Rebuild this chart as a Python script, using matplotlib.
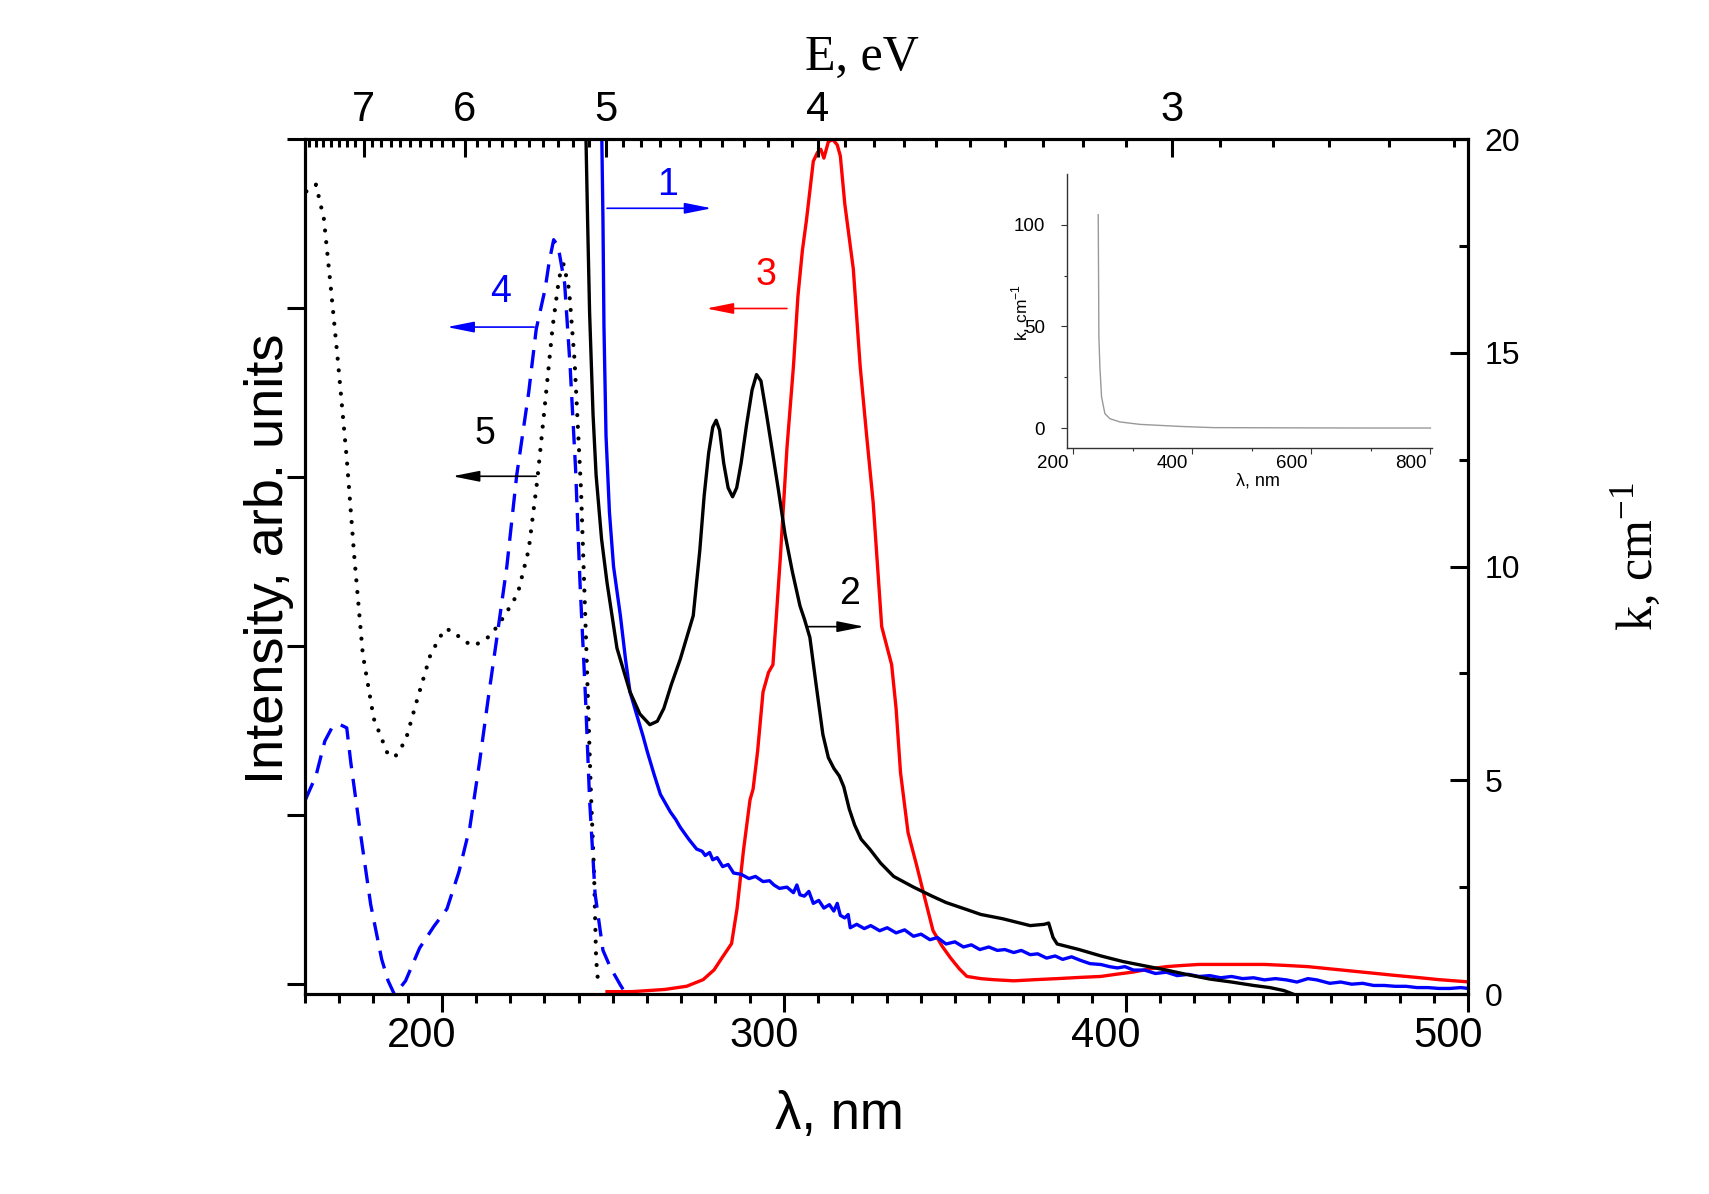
import numpy as np
import matplotlib
matplotlib.use("Agg")
import matplotlib.pyplot as plt
from matplotlib.transforms import ScaledTranslation

# ---------------- data ----------------
# curve 1 : blue solid, k (right axis)
wl_1 = [246.6, 247.1, 247.4, 248.0, 249.0, 250.2, 252.2, 253.7, 255.0, 256.9,
        258.8, 260.1, 262.0, 263.9, 266.8, 268.4, 269.7, 272.2, 274.5, 276.1,
        277.0, 278.3, 279.2, 280.5, 282.1, 283.7, 285.3, 287.5, 289.8, 291.7,
        293.9, 295.8, 297.1, 298.7, 300.9, 302.8, 303.8, 304.7, 306.0, 307.3,
        308.6, 310.2, 311.7, 313.3, 314.6, 315.6, 316.5, 317.8, 318.8, 319.4,
        321.3, 323.5, 325.4, 328.0, 330.2, 332.8, 335.3, 337.9, 340.1, 342.7,
        344.9, 347.4, 350.0, 352.5, 354.8, 357.3, 359.9, 362.4, 364.6, 367.2,
        369.4, 372.0, 374.2, 376.8, 379.3, 381.5, 384.1, 386.6, 389.5, 392.7,
        395.2, 397.5, 399.7, 402.2, 405.4, 408.6, 411.8, 415.0, 418.2, 421.4,
        424.5, 427.7, 430.9, 434.1, 437.3, 440.5, 443.7, 446.9, 450.0, 453.2,
        455.8, 459.6, 462.8, 466.0, 469.2, 472.4, 475.5, 478.7, 481.9, 485.1,
        488.3, 491.5, 494.7, 497.9, 500.1]
k_1 = [21.0, 18.16, 15.61, 13.06, 11.27, 10.00, 8.85, 7.83, 7.07, 6.55,
       6.04, 5.66, 5.15, 4.67, 4.26, 4.08, 3.90, 3.62, 3.39, 3.34,
       3.24, 3.31, 3.14, 3.19, 2.98, 3.03, 2.83, 2.80, 2.70, 2.75,
       2.63, 2.65, 2.55, 2.47, 2.50, 2.37, 2.55, 2.32, 2.29, 2.40,
       2.12, 2.19, 2.01, 2.09, 1.94, 2.12, 1.84, 1.78, 1.86, 1.55,
       1.63, 1.53, 1.60, 1.48, 1.55, 1.43, 1.50, 1.35, 1.40, 1.27,
       1.32, 1.17, 1.22, 1.10, 1.15, 1.04, 1.10, 1.02, 1.04, 0.97,
       1.02, 0.92, 0.94, 0.84, 0.89, 0.81, 0.87, 0.79, 0.71, 0.69,
       0.64, 0.61, 0.64, 0.56, 0.56, 0.48, 0.51, 0.43, 0.46, 0.41,
       0.43, 0.38, 0.41, 0.36, 0.38, 0.33, 0.36, 0.33, 0.28, 0.36,
       0.33, 0.25, 0.28, 0.23, 0.25, 0.20, 0.20, 0.18, 0.18, 0.15,
       0.15, 0.13, 0.13, 0.15, 0.13]

# curve 2 : black solid, k (right axis)
wl_2 = [241.9, 242.6, 243.2, 244.2, 245.1, 246.7, 248.3, 251.2, 255.0, 257.9,
        260.8, 263.0, 264.9, 267.1, 269.7, 271.6, 273.5, 275.4, 276.7, 278.0,
        279.2, 280.2, 281.2, 282.4, 283.7, 285.0, 286.2, 287.5, 289.1, 290.7,
        292.0, 293.3, 294.9, 296.4, 298.4, 300.3, 302.5, 304.7, 306.0, 307.6,
        309.5, 311.4, 313.0, 314.6, 316.2, 317.5, 319.1, 320.7, 322.6, 325.1,
        328.3, 332.1, 337.9, 343.3, 347.4, 352.9, 357.6, 364.0, 372.0, 376.1,
        377.4, 378.7, 379.9, 386.3, 392.7, 399.1, 405.4, 411.8, 418.2, 424.5,
        430.9, 437.3, 442.1, 446.2, 448.8]
k_2 = [21.0, 18.16, 15.94, 13.57, 12.14, 10.64, 9.62, 8.09, 7.07, 6.55,
       6.30, 6.38, 6.68, 7.24, 7.83, 8.34, 8.85, 10.36, 11.66, 12.65,
       13.26, 13.42, 13.19, 12.42, 11.84, 11.63, 11.84, 12.42, 13.32, 14.13,
       14.49, 14.34, 13.57, 12.81, 11.79, 10.77, 9.87, 9.08, 8.77, 8.34,
       7.19, 6.07, 5.53, 5.28, 5.10, 4.85, 4.33, 3.95, 3.62, 3.39,
       3.06, 2.75, 2.50, 2.29, 2.14, 1.99, 1.86, 1.76, 1.60, 1.63,
       1.66, 1.32, 1.17, 1.04, 0.89, 0.76, 0.66, 0.56, 0.45, 0.35,
       0.28, 0.20, 0.15, 0.08, 0.00]

# curve 3 : red solid, intensity (left axis)
wl_3 = [248.3, 255.7, 265.2, 271.6, 276.4, 279.6, 282.1, 284.7, 286.3, 288.2,
        290.1, 291.0, 292.3, 293.9, 295.5, 296.8, 297.7, 299.0, 300.9, 302.8,
        304.1, 305.4, 306.6, 308.6, 309.8, 310.8, 311.7, 313.0, 314.3, 315.6,
        316.5, 317.8, 320.3, 322.3, 324.2, 326.1, 328.6, 331.5, 332.8, 334.1,
        336.3, 338.8, 341.1, 343.6, 346.2, 348.7, 351.3, 353.5, 357.6, 361.1,
        367.2, 373.6, 379.9, 386.3, 392.7, 397.2, 402.2, 407.0, 411.8, 416.6,
        421.4, 427.7, 434.1, 440.5, 446.9, 453.2, 459.6, 466.0, 472.4, 478.7,
        485.1, 491.5, 500.0]
int_3 = [-0.046, -0.046, -0.033, -0.014, 0.025, 0.083, 0.160, 0.238, 0.444, 0.792,
         1.089, 1.153, 1.373, 1.727, 1.843, 1.889, 2.147, 2.534, 3.172, 3.656,
         4.068, 4.339, 4.520, 4.868, 4.920, 4.939, 4.887, 4.984, 4.997, 4.965,
         4.900, 4.617, 4.230, 3.656, 3.243, 2.849, 2.114, 1.889, 1.631, 1.250,
         0.895, 0.702, 0.515, 0.315, 0.225, 0.154, 0.089, 0.044, 0.031, 0.025,
         0.018, 0.025, 0.031, 0.038, 0.044, 0.057, 0.070, 0.089, 0.102, 0.109,
         0.115, 0.115, 0.115, 0.115, 0.109, 0.102, 0.089, 0.076, 0.063, 0.050,
         0.038, 0.025, 0.012]

# curve 4 : blue dashed, intensity (left axis)
wl_4 = [160.1, 163.2, 165.8, 168.0, 170.3, 172.2, 173.4, 176.0, 179.2, 182.4,
        184.3, 186.2, 189.4, 193.5, 197.7, 201.5, 205.0, 208.2, 211.0, 213.6,
        216.1, 219.0, 221.9, 225.4, 227.6, 230.2, 231.4, 232.7, 234.0, 235.9,
        237.5, 239.1, 240.4, 242.0, 243.2, 244.8, 247.1, 249.3, 252.2, 253.8]
int_4 = [1.089, 1.231, 1.437, 1.521, 1.534, 1.515, 1.308, 0.921, 0.470, 0.147,
         0.018, -0.065, 0.018, 0.212, 0.341, 0.444, 0.663, 0.928, 1.308, 1.695,
         2.050, 2.469, 3.011, 3.501, 3.875, 4.113, 4.275, 4.404, 4.365, 4.146,
         3.656, 3.049, 2.372, 1.695, 1.089, 0.534, 0.199, 0.096, -0.007, -0.059]

# curve 5 : black dotted, intensity (left axis)
wl_5 = [160.4, 163.2, 165.5, 167.4, 169.6, 172.2, 174.4, 176.9, 180.1, 184.0,
        186.2, 189.4, 192.9, 196.7, 200.8, 203.1, 206.3, 209.4, 214.2, 218.4,
        222.2, 225.4, 227.9, 230.2, 232.4, 234.3, 235.6, 237.2, 238.8, 240.7,
        242.3, 243.5, 244.5, 245.1, 245.8]
int_5 = [4.69, 4.73, 4.53, 4.15, 3.69, 3.11, 2.53, 1.95, 1.57, 1.37,
         1.34, 1.44, 1.69, 1.95, 2.10, 2.09, 2.03, 2.00, 2.06, 2.18,
         2.31, 2.57, 2.98, 3.44, 3.89, 4.18, 4.26, 4.11, 3.69, 2.92,
         1.95, 1.18, 0.66, 0.15, -0.02]

# inset curve : k over the wide range
wl_in = [242.0, 243.1, 244.8, 247.6, 253.2, 261.6, 278.4, 312.0, 379.0, 435.0, 550.0, 700.0, 800.0]
k_in = [105.0, 44.9, 30.0, 15.3, 7.1, 4.6, 3.0, 1.8, 0.8, 0.2, 0.1, 0.0, 0.0]

# ticks / labels
wl_ticks = [200, 300, 400, 500]
wl_tick_labels = ["200", "300", "400", "500"]
energy_ticks = [3, 4, 5, 6, 7]
energy_tick_labels = ["3", "4", "5", "6", "7"]
left_ticks = [0, 1, 2, 3, 4, 5]
k_ticks = [0, 5, 10, 15, 20]
k_tick_labels = ["0", "5", "10", "15", "20"]
k_minor = [2.5, 7.5, 12.5, 17.5]
inset_xticks = [200, 400, 600, 800]
inset_xminor = [300, 500, 700]
inset_yticks = [0, 50, 100]
inset_yminor = [25, 75]

# curve labels: (text, text x, text y, arrow start x, arrow end x, arrow y, colour)
labels = [("1", 265.9, 4.726, 248.3, 278.9, 4.590, "#0000ff"),
          ("4", 217.1, 4.094, 227.0, 201.5, 3.887, "#0000ff"),
          ("3", 294.9, 4.197, 300.9, 277.3, 3.997, "#ff0000"),
          ("5", 212.6, 3.256, 227.6, 203.1, 3.004, "#000000"),
          ("2", 319.1, 2.307, 306.6, 323.5, 2.114, "#000000")]

# ---------------- drawing ----------------
plt.rcParams['font.family'] = ['Liberation Sans', 'DejaVu Sans']
BLUE, RED, BLACK = "#0000ff", "#ff0000", "#000000"
DPI = 100
LW = 2.4
fig = plt.figure(figsize=(17.09, 11.94), dpi=DPI)
ax = fig.add_axes([0.17847, 0.16750, 0.68051, 0.71608])
ax2 = ax.twinx()
ax3 = ax.twiny()

ax.plot(wl_5, int_5, color=BLACK, lw=3.0, linestyle=(0, (0.01, 2.8)),
        dash_capstyle='round')
ax.plot(wl_4, int_4, color=BLUE, lw=LW, linestyle=(0, (5.5, 3.2)))
ax.plot(wl_3, int_3, color=RED, lw=LW)
ax2.plot(wl_1, k_1, color=BLUE, lw=LW)
ax2.plot(wl_2, k_2, color=BLACK, lw=LW)

ax.set_xlim(160, 500)
ax.set_ylim(-0.06, 5.0)
ax2.set_ylim(0, 20)
ax3.set_xlim(160, 500)

for a in (ax, ax2, ax3):
    for s in a.spines.values():
        s.set_linewidth(2.2)

# bottom axis
ax.set_xticks(wl_ticks)
ax.set_xticks(np.arange(160, 501, 10), minor=True)
ax.set_xticklabels(wl_tick_labels)
ax.tick_params(axis='x', which='both', direction='out', width=2.2,
               labelsize=30, pad=3, top=False)
ax.tick_params(axis='x', which='major', length=13)
ax.tick_params(axis='x', which='minor', length=6.5)
shift = ScaledTranslation(-20 / DPI, 0, fig.dpi_scale_trans)
for lab in ax.get_xticklabels():
    lab.set_transform(lab.get_transform() + shift)

# left axis (no labels)
ax.set_yticks(left_ticks)
ax.tick_params(axis='y', which='major', direction='out', length=13, width=2.2,
               labelleft=False, right=False)

# right axis
ax2.set_yticks(k_ticks)
ax2.set_yticklabels(k_tick_labels)
ax2.set_yticks(k_minor, minor=True)
ax2.tick_params(axis='y', which='both', direction='in', width=2.2,
                labelsize=23, pad=12)
ax2.tick_params(axis='y', which='major', length=13)
ax2.tick_params(axis='y', which='minor', length=6.5)

# top axis (photon energy)
ax3.set_xticks([1240.0 / e for e in energy_ticks])
ax3.set_xticklabels(energy_tick_labels)
e_minor = [e for e in np.round(np.arange(2.5, 7.75, 0.1), 1)
           if abs(e - round(e)) > 1e-6]
ax3.set_xticks([1240.0 / e for e in e_minor], minor=True)
ax3.tick_params(axis='x', which='both', direction='in', width=2.2,
                labelsize=30, pad=6.5)
ax3.tick_params(axis='x', which='major', length=13)
ax3.tick_params(axis='x', which='minor', length=5.5)

# axis titles
fig.text(0.1572, 0.5322, "Intensity, arb. units", rotation=90,
         ha='center', va='center', fontsize=39)
fig.text(0.4910, 0.0660, "λ, nm", ha='center', va='center', fontsize=38)
fig.text(0.5044, 0.9520, "E, eV", ha='center', va='center', fontsize=36,
         family=['Liberation Serif', 'DejaVu Serif'])
fig.text(0.9573, 0.5335, r"k, cm$^{\mathregular{-1}}$", rotation=90,
         ha='center', va='center', fontsize=36,
         family=['Liberation Serif', 'DejaVu Serif'])

# curve number labels with arrows
for txt, tx, ty, x0, x1, ya, col in labels:
    ax.text(tx, ty, txt, color=col, fontsize=27, ha='center', va='center')
    ax.annotate("", xy=(x1, ya), xytext=(x0, ya),
                arrowprops=dict(arrowstyle="-|>,head_length=1.1,head_width=0.22",
                                color=col, lw=1.2, shrinkA=0, shrinkB=0,
                                mutation_scale=15))

# ---------------- inset ----------------
axi = fig.add_axes([0.6245, 0.6245, 0.2132, 0.2297])
axi.plot(wl_in, k_in, color="#999999", lw=1.0)
axi.set_xlim(190, 802)
axi.set_ylim(-10, 125)
axi.spines['top'].set_visible(False)
axi.spines['right'].set_visible(False)
for s in ('left', 'bottom'):
    axi.spines[s].set_linewidth(1.0)
    axi.spines[s].set_color('#333333')
axi.set_xticks(inset_xticks)
axi.set_xticks(inset_xminor, minor=True)
axi.set_yticks(inset_yticks)
axi.set_yticks(inset_yminor, minor=True)
axi.tick_params(axis='both', which='both', direction='out', width=0.8,
                color='#333333', labelsize=13.5)
axi.tick_params(axis='both', which='major', length=4)
axi.tick_params(axis='both', which='minor', length=2.5)
axi.tick_params(axis='y', which='major', pad=12)
axi.tick_params(axis='x', which='major', pad=1)
for lab in axi.get_xticklabels():
    lab.set_transform(lab.get_transform() + shift)
fig.text(0.7361, 0.5974, "λ, nm", ha='center', va='center', fontsize=13)
fig.text(0.5973, 0.7384, r"k, cm$^{\mathregular{-1}}$", rotation=90,
         ha='center', va='center', fontsize=12.5)

fig.savefig("out.png", dpi=DPI)
